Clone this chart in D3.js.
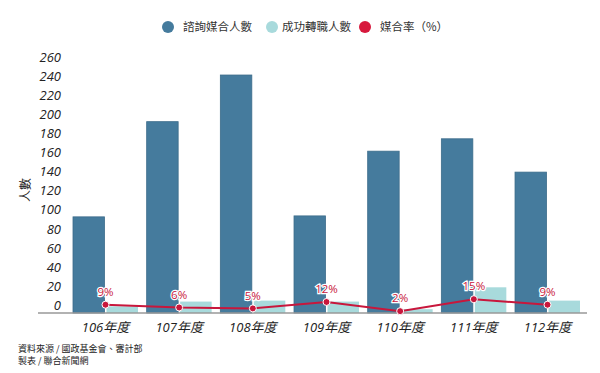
<!DOCTYPE html>
<html>
<head>
<meta charset="utf-8">
<script src="https://cdn.jsdelivr.net/npm/d3@7"></script>
<style>
  body { margin: 0; background: #fff; }
  svg text { font-family: "Open Sans", "Noto Sans CJK TC", sans-serif; }
</style>
</head>
<body>
<div class="wrapper"></div>
<script>
// data
var years = ["106年度", "107年度", "108年度", "109年度", "110年度", "111年度", "112年度"];
var consulted = [101, 201, 250, 102, 170, 183, 148];   // 諮詢媒合人數
var employed = [7, 12, 13, 12, 4, 27, 13];             // 成功轉職人數
var rates = [9, 6, 5, 12, 2, 15, 9];                    // 媒合率(%)
var yTicks = [0, 20, 40, 60, 80, 100, 120, 140, 160, 180, 200, 220, 240, 260];
var legendItems = ["諮詢媒合人數", "成功轉職人數", "媒合率（%）"];

var width = 600, height = 373;
var darkColor = "#457b9d", lightColor = "#a8dadc", redColor = "#c8173c";
var CJK = "'Noto Sans CJK TC', sans-serif";

var svg = d3.select(".wrapper").append("svg")
  .attr("width", width)
  .attr("height", height);

var x0 = d3.scaleBand()
  .domain(years)
  .range([73, 580])
  .paddingInner(0.118)
  .paddingOuter(0);

var x1 = d3.scaleBand()
  .domain(["consulted", "employed"])
  .range([0, x0.bandwidth()])
  .paddingInner(0.06);

var y = d3.scaleLinear()
  .domain([0, 260])
  .range([313, 65.5]);

// rate line sits on its own (hidden) scale
var y2 = d3.scaleLinear()
  .domain([0, 100])
  .range([313, 221]);

/*------------------ legend ------------------*/
var legendX = [168, 272, 365];
var legendGap = [15, 10, 15];
var legendColors = [darkColor, lightColor, "#d7193d"];
var legend = svg.append("g").selectAll("g")
  .data(legendItems)
  .join("g")
  .attr("transform", (d, i) => "translate(" + legendX[i] + ",27)");

legend.append("circle")
  .attr("r", 6)
  .attr("fill", (d, i) => legendColors[i]);

legend.append("text")
  .attr("x", (d, i) => legendGap[i])
  .attr("dy", "0.36em")
  .style("font-family", CJK)
  .style("font-size", "11.5px")
  .attr("fill", "#333")
  .text(d => d);

/*------------------ y axis ------------------*/
svg.append("g").selectAll("text")
  .data(yTicks)
  .join("text")
  .attr("x", 61)
  .attr("y", d => y(d) - 8)
  .attr("dy", "0.36em")
  .attr("text-anchor", "end")
  .style("font-size", "13px")
  .style("font-style", "italic")
  .attr("fill", "#222")
  .text(d => d);

svg.append("text")
  .attr("transform", "translate(26,190) rotate(-90)")
  .attr("text-anchor", "middle")
  .attr("dy", "0.36em")
  .style("font-family", CJK)
  .style("font-size", "12px")
  .attr("fill", "#222")
  .text("人數");

/*------------------ bars ------------------*/
var groups = svg.append("g").selectAll("g")
  .data(years)
  .join("g")
  .attr("transform", d => "translate(" + x0(d) + ",0)");

groups.append("rect")
  .attr("x", x1("consulted"))
  .attr("width", x1.bandwidth())
  .attr("y", (d, i) => y(consulted[i]))
  .attr("height", (d, i) => y(0) - y(consulted[i]))
  .attr("fill", darkColor)
  .attr("stroke", "#3c6c8a")
  .attr("stroke-width", 0.8);

groups.append("rect")
  .attr("x", x1("employed"))
  .attr("width", x1.bandwidth())
  .attr("y", (d, i) => y(employed[i]))
  .attr("height", (d, i) => y(0) - y(employed[i]))
  .attr("fill", lightColor);

/*------------------ x axis ------------------*/
svg.append("line")
  .attr("x1", 38).attr("x2", 587)
  .attr("y1", y(0)).attr("y2", y(0))
  .attr("stroke", "#999")
  .attr("stroke-width", 1.5);

svg.append("g").selectAll("text")
  .data(years)
  .join("text")
  .attr("x", d => x0(d) + x0.bandwidth() / 2)
  .attr("y", 327)
  .attr("dy", "0.36em")
  .attr("text-anchor", "middle")
  .style("font-size", "13px")
  .style("font-style", "italic")
  .attr("fill", "#222")
  .text(d => d);

/*------------------ rate line ------------------*/
var cx = d => x0(d) + x0.bandwidth() / 2;
var line = d3.line()
  .x((d, i) => cx(years[i]))
  .y(d => y2(d));

svg.append("path")
  .datum(rates)
  .attr("d", line)
  .attr("fill", "none")
  .attr("stroke", redColor)
  .attr("stroke-width", 2);

svg.append("g").selectAll("circle")
  .data(rates)
  .join("circle")
  .attr("cx", (d, i) => cx(years[i]))
  .attr("cy", d => y2(d))
  .attr("r", 3.5)
  .attr("fill", redColor)
  .attr("stroke", "#fff")
  .attr("stroke-width", 1);

svg.append("g").selectAll("text")
  .data(rates)
  .join("text")
  .attr("x", (d, i) => cx(years[i]))
  .attr("y", d => y2(d) - 13)
  .attr("dy", "0.36em")
  .attr("text-anchor", "middle")
  .style("font-size", "11.5px")
  .attr("fill", redColor)
  .attr("stroke", "#fff")
  .attr("stroke-width", 2.5)
  .attr("paint-order", "stroke")
  .text(d => d + "%");

/*------------------ source ------------------*/
svg.append("text")
  .attr("x", 18).attr("y", 352)
  .style("font-family", CJK)
  .style("font-size", "9px")
  .attr("fill", "#222")
  .text("資料來源 / 國政基金會、審計部");

svg.append("text")
  .attr("x", 18).attr("y", 364)
  .style("font-family", CJK)
  .style("font-size", "9px")
  .attr("fill", "#222")
  .text("製表 / 聯合新聞網");
</script>
</body>
</html>
